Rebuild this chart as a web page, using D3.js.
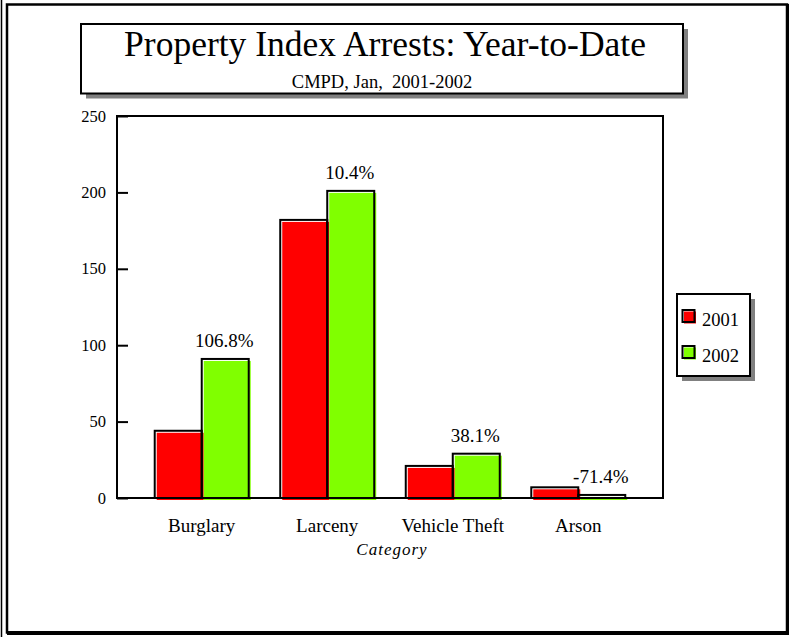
<!DOCTYPE html>
<html>
<head>
<meta charset="utf-8">
<script src="https://cdn.jsdelivr.net/npm/d3@7"></script>
<style>
  html, body { margin: 0; padding: 0; background: #fff; }
  svg { display: block; }
  text { font-family: "Liberation Serif", "Times New Roman", serif; fill: #000; }
</style>
</head>
<body>
<script>
// ---- data ----
const categories = ["Burglary", "Larceny", "Vehicle Theft", "Arson"];
const seriesNames = ["2001", "2002"];
const values2001 = [44, 182, 21, 7];
const values2002 = [91, 201, 29, 2];
const changeLabels = ["106.8%", "10.4%", "38.1%", "-71.4%"];
const yTicks = [0, 50, 100, 150, 200, 250];
const seriesColors = ["#ff0000", "#80ff00"];
const titleText = "Property Index Arrests: Year-to-Date";
const subtitleText = "CMPD, Jan,  2001-2002";
const xAxisTitle = "Category";

const W = 789, H = 637;
const svg = d3.select("body").append("svg").attr("width", W).attr("height", H);

// outer frame
svg.append("line").attr("x1", 1.5).attr("x2", 1.5).attr("y1", 0).attr("y2", H)
  .attr("stroke", "#000").attr("stroke-width", 1.5);
svg.append("rect").attr("x", 7).attr("y", 4.5).attr("width", 780).attr("height", 628)
  .attr("fill", "none").attr("stroke", "#000").attr("stroke-width", 2.5);
svg.append("line").attr("x1", 7).attr("x2", 789).attr("y1", 633).attr("y2", 633)
  .attr("stroke", "#000").attr("stroke-width", 4);
svg.append("line").attr("x1", 787.5).attr("x2", 787.5).attr("y1", 4).attr("y2", 635)
  .attr("stroke", "#000").attr("stroke-width", 3);

// title box with shadow
const tb = {x: 81, y: 24, w: 602, h: 69.5};
svg.append("rect").attr("x", tb.x + 5).attr("y", tb.y + 5).attr("width", tb.w).attr("height", tb.h)
  .attr("fill", "#808080");
svg.append("rect").attr("x", tb.x).attr("y", tb.y).attr("width", tb.w).attr("height", tb.h)
  .attr("fill", "#fff").attr("stroke", "#000").attr("stroke-width", 2);
svg.append("text").attr("x", tb.x + tb.w / 2 + 3).attr("y", 56).attr("text-anchor", "middle")
  .style("font-size", "35.5px").text(titleText);
svg.append("text").attr("x", tb.x + tb.w / 2).attr("y", 88).attr("text-anchor", "middle")
  .style("font-size", "18.5px").style("white-space", "pre").text(subtitleText);

// plot area
const plot = {left: 117, top: 116, right: 663, bottom: 498};
const y = d3.scaleLinear().domain([0, 250]).range([plot.bottom, plot.top]);
const x = d3.scalePoint().domain(categories).range([plot.left, plot.right]).padding(0.675);
const barW = 47;

svg.append("rect").attr("x", plot.left).attr("y", plot.top)
  .attr("width", plot.right - plot.left).attr("height", plot.bottom - plot.top)
  .attr("fill", "#fff").attr("stroke", "#000").attr("stroke-width", 2);

// y axis (ticks pointing inward)
const yAxis = d3.axisRight(y).tickValues(yTicks).tickSize(11).tickFormat("");
const gy = svg.append("g").attr("transform", `translate(${plot.left},0)`).call(yAxis);
gy.select(".domain").remove();
gy.selectAll(".tick line").attr("stroke", "#000").attr("stroke-width", 2);
svg.selectAll(".ylab").data(yTicks).enter().append("text")
  .attr("x", 106).attr("y", d => y(d) + 5.5).attr("text-anchor", "end")
  .style("font-size", "16.5px").text(d => d);

// bars
const series = [values2001, values2002];
const barG = svg.append("g");
categories.forEach((c, i) => {
  series.forEach((vals, s) => {
    const bx = x(c) - barW + s * barW;
    const by = y(vals[i]);
    const bh = plot.bottom - by;
    barG.append("rect").attr("x", bx + 2).attr("y", by + 2).attr("width", barW).attr("height", bh)
      .attr("fill", seriesColors[s]);
    barG.append("rect").attr("x", bx).attr("y", by).attr("width", barW).attr("height", bh)
      .attr("fill", "none").attr("stroke", "#000").attr("stroke-width", 2);
  });
  barG.append("text").attr("x", x(c) + barW / 2 - 1).attr("y", y(values2002[i]) - 12)
    .attr("text-anchor", "middle").style("font-size", "19px").text(changeLabels[i]);
});

// redraw bottom axis line over fills
svg.append("line").attr("x1", plot.left).attr("x2", plot.right).attr("y1", plot.bottom).attr("y2", plot.bottom)
  .attr("stroke", "#000").attr("stroke-width", 2);

// category labels
categories.forEach(c => {
  svg.append("text").attr("x", x(c)).attr("y", 532).attr("text-anchor", "middle")
    .style("font-size", "19px").text(c);
});
svg.append("text").attr("x", (plot.left + plot.right) / 2 + 2).attr("y", 555).attr("text-anchor", "middle")
  .style("font-size", "17px").style("font-style", "italic").style("letter-spacing", "1px").text(xAxisTitle);

// legend
const lg = {x: 677, y: 294, w: 73, h: 82};
svg.append("rect").attr("x", lg.x + 5).attr("y", lg.y + 5).attr("width", lg.w).attr("height", lg.h)
  .attr("fill", "#808080");
svg.append("rect").attr("x", lg.x).attr("y", lg.y).attr("width", lg.w).attr("height", lg.h)
  .attr("fill", "#fff").attr("stroke", "#000").attr("stroke-width", 2);
seriesNames.forEach((n, s) => {
  const sy = 310 + s * 36;
  svg.append("rect").attr("x", 684).attr("y", sy + 1.5).attr("width", 12).attr("height", 12)
    .attr("fill", seriesColors[s]);
  svg.append("rect").attr("x", 682.5).attr("y", sy).attr("width", 12).attr("height", 12)
    .attr("fill", "none").attr("stroke", "#000").attr("stroke-width", 2);
  svg.append("text").attr("x", 702).attr("y", sy + 16).style("font-size", "18.5px").text(n);
});
</script>
</body>
</html>
